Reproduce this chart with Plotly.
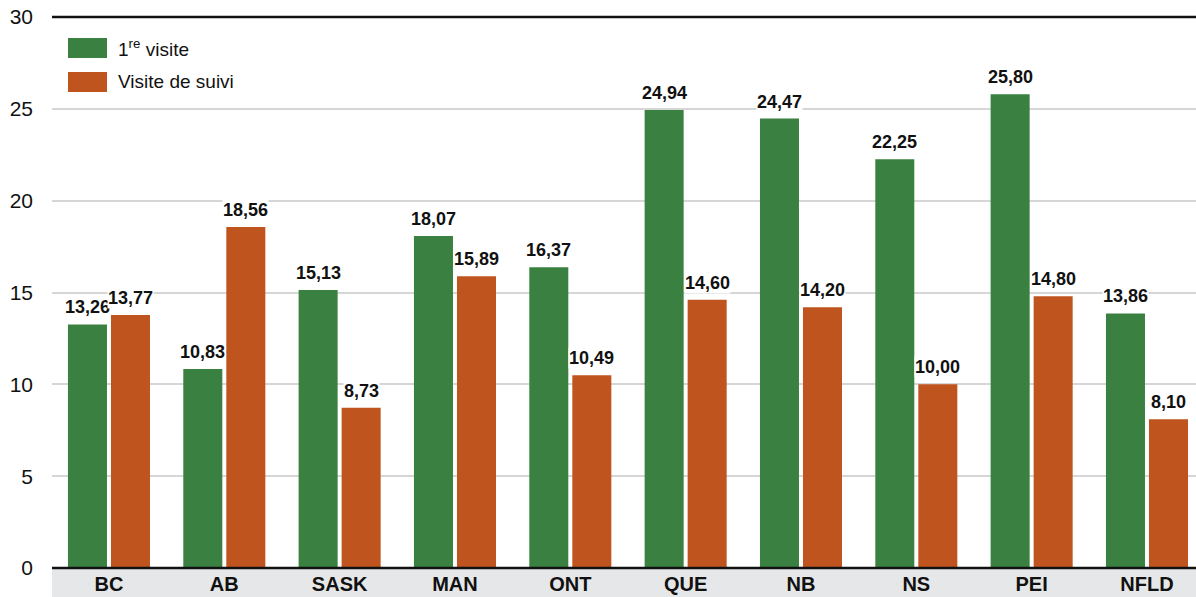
import plotly.graph_objects as go

categories = ["BC", "AB", "SASK", "MAN", "ONT", "QUE", "NB", "NS", "PEI", "NFLD"]
first_visit = [13.26, 10.83, 15.13, 18.07, 16.37, 24.94, 24.47, 22.25, 25.80, 13.86]
follow_up = [13.77, 18.56, 8.73, 15.89, 10.49, 14.60, 14.20, 10.00, 14.80, 8.10]
series_names = ["1<sup>re</sup> visite", "Visite de suivi"]
y_ticks = [0, 5, 10, 15, 20, 25, 30]

GREEN = "#3a8040"
ORANGE = "#c0541e"
FONT = "Liberation Sans, Arial, sans-serif"

def fmt(v):
    return f"{v:.2f}".replace(".", ",")

fig = go.Figure()
fig.add_trace(go.Bar(x=categories, y=first_visit, name="1re visite",
                     marker=dict(color=GREEN, line=dict(width=0))))
fig.add_trace(go.Bar(x=categories, y=follow_up, name="Visite de suivi",
                     marker=dict(color=ORANGE, line=dict(width=0))))

annotations = []
for vals, shift in ((first_visit, -21.5), (follow_up, 21.5)):
    for c, v in zip(categories, vals):
        annotations.append(dict(
            x=c, y=v, xref="x", yref="y", text=fmt(v), showarrow=False,
            xshift=shift, yshift=6, yanchor="bottom",
            font=dict(family=FONT, size=18, color="#111111", weight="bold"),
            bgcolor="white", borderpad=0))

# custom legend
shapes = []
legend_rows = [(GREEN, series_names[0], 48), (ORANGE, series_names[1], 82)]
for color, label, ypx in legend_rows:
    shapes.append(dict(type="rect", xref="paper", yref="paper",
                       x0=16 / 1144, x1=55 / 1144,
                       y0=(568 - (ypx + 10)) / 551, y1=(568 - (ypx - 10)) / 551,
                       fillcolor=color, line=dict(width=0), layer="above"))
    annotations.append(dict(x=64 / 1144, y=(568 - ypx) / 551, xref="paper", yref="paper",
                            text=label, showarrow=False, xanchor="left", yanchor="middle",
                            font=dict(family=FONT, size=19, color="#111111")))

# category band
shapes.append(dict(type="rect", xref="paper", yref="paper", x0=0, x1=1,
                   y0=-0.06, y1=0, fillcolor="#e6e7e8", line=dict(width=0), layer="below"))
# top and zero lines
for yp in (0, 1):
    shapes.append(dict(type="line", xref="paper", yref="paper", x0=0, x1=1, y0=yp, y1=yp,
                       line=dict(color="#111111", width=2.5), layer="above"))

fig.update_layout(
    width=1196, height=597,
    margin=dict(l=52, r=0, t=17, b=29),
    paper_bgcolor="white", plot_bgcolor="white",
    barmode="group", bargap=0.254, bargroupgap=0.093,
    showlegend=False,
    font=dict(family=FONT, color="#111111"),
    xaxis=dict(type="category", range=[-0.494, 9.425], showgrid=False, showline=False,
               ticks="", zeroline=False,
               tickfont=dict(family=FONT, size=20, color="#111111", weight="bold"),
               ticklabelstandoff=2),
    yaxis=dict(range=[0, 30], tickvals=y_ticks, showgrid=True, gridcolor="#d6d6d6",
               gridwidth=2, zeroline=False, showline=False, ticks="",
               tickfont=dict(family=FONT, size=21, color="#111111"),
               ticklabelstandoff=18),
    annotations=annotations, shapes=shapes,
)

fig.write_html("out.html")
